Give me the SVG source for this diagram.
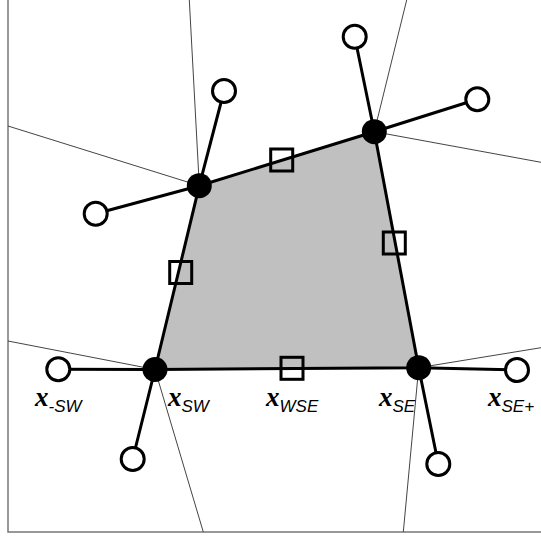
<svg xmlns="http://www.w3.org/2000/svg" width="541" height="540" viewBox="0 0 541 540">
  <style>
    .frame { fill: none; stroke: #777; stroke-width: 1.5; }
    .thin { stroke: #444; stroke-width: 1; fill: none; }
    .thick { stroke: #000; stroke-width: 3; fill: none; stroke-linecap: round; }
    .cell { fill: #c0c0c0; stroke: #000; stroke-width: 3; stroke-linejoin: round; }
    .node { fill: #000; }
    .open { fill: #fff; stroke: #000; stroke-width: 3; }
    .mid { fill: none; stroke: #000; stroke-width: 3; }
    .lbl { font-family: "Liberation Serif", serif; font-style: italic; font-weight: bold; font-size: 27px; fill: #000; }
    .sub { font-family: "Liberation Sans", Arial, sans-serif; font-style: italic; font-weight: normal; font-size: 17px; }
  </style>
  <rect width="541" height="540" fill="#fff"/>
  <rect class="frame" x="8" y="-10" width="545" height="542"/>

  <g id="cell">
    <polygon class="cell" points="199.3,185.7 374.3,131.7 418.7,367.7 155,369.5"/>
  </g>

  <g id="connectors">
    <line class="thin" x1="199.3" y1="185.7" x2="189.3" y2="0"/>
    <line class="thin" x1="199.3" y1="185.7" x2="8" y2="126"/>
    <line class="thin" x1="374.3" y1="131.7" x2="406.7" y2="0"/>
    <line class="thin" x1="374.3" y1="131.7" x2="541" y2="162.3"/>
    <line class="thin" x1="155" y1="369.5" x2="8" y2="341"/>
    <line class="thin" x1="155" y1="369.5" x2="203.3" y2="532"/>
    <line class="thin" x1="418.7" y1="367.7" x2="541" y2="347.7"/>
    <line class="thin" x1="418.7" y1="367.7" x2="403.3" y2="532"/>

    <line class="thick" x1="199.3" y1="185.7" x2="224" y2="91"/>
    <line class="thick" x1="199.3" y1="185.7" x2="95.7" y2="213.7"/>
    <line class="thick" x1="374.3" y1="131.7" x2="354.7" y2="36.7"/>
    <line class="thick" x1="374.3" y1="131.7" x2="477.3" y2="99.3"/>
    <line class="thick" x1="155" y1="369.5" x2="58.3" y2="369.3"/>
    <line class="thick" x1="155" y1="369.5" x2="132.7" y2="459"/>
    <line class="thick" x1="418.7" y1="367.7" x2="517" y2="370"/>
    <line class="thick" x1="418.7" y1="367.7" x2="438.3" y2="464"/>
  </g>

  <g id="mid-top"><rect class="mid" x="270.7" y="149" width="22" height="22"/></g>
  <g id="mid-right"><rect class="mid" x="383.3" y="232" width="22" height="22"/></g>
  <g id="mid-left"><rect class="mid" x="169.7" y="261.5" width="22" height="22"/></g>
  <g id="mid-bottom"><rect class="mid" x="281" y="357.3" width="22" height="22"/></g>

  <g id="n-top-nw"><circle class="open" cx="224" cy="91" r="11.5"/></g>
  <g id="n-west"><circle class="open" cx="95.7" cy="213.7" r="11.5"/></g>
  <g id="n-north"><circle class="open" cx="354.7" cy="36.7" r="11.5"/></g>
  <g id="n-east"><circle class="open" cx="477.3" cy="99.3" r="11.5"/></g>
  <g id="n-minus-sw"><circle class="open" cx="58.3" cy="369.3" r="11.5"/></g>
  <g id="n-sw-down"><circle class="open" cx="132.7" cy="459" r="11.5"/></g>
  <g id="n-se-plus"><circle class="open" cx="517" cy="370" r="11.5"/></g>
  <g id="n-se-down"><circle class="open" cx="438.3" cy="464" r="11.5"/></g>

  <g id="n-nw"><circle class="node" cx="199.3" cy="185.7" r="12.5"/></g>
  <g id="n-ne"><circle class="node" cx="374.3" cy="131.7" r="12.5"/></g>
  <g id="n-sw"><circle class="node" cx="155" cy="369.5" r="12.5"/></g>
  <g id="n-se"><circle class="node" cx="418.7" cy="367.7" r="12.5"/></g>

  <g id="labels">
    <text class="lbl" x="35" y="405.5">x<tspan class="sub" dy="6">-SW</tspan></text>
    <text class="lbl" x="168" y="405.5">x<tspan class="sub" dy="6">SW</tspan></text>
    <text class="lbl" x="266" y="405.5">x<tspan class="sub" dy="6">WSE</tspan></text>
    <text class="lbl" x="379" y="405.5">x<tspan class="sub" dy="6">SE</tspan></text>
    <text class="lbl" x="488" y="405.5">x<tspan class="sub" dy="6">SE+</tspan></text>
  </g>
</svg>
